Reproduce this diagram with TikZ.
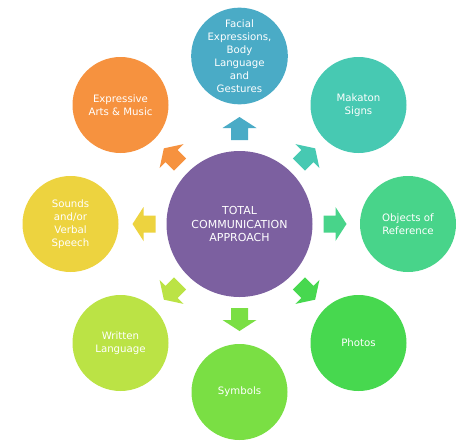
\documentclass[tikz,border=0pt]{standalone}
\usepackage{fontspec}
\setmainfont{DejaVu Sans}
\usetikzlibrary{calc}
\definecolor{hubcol}{HTML}{7C60A0}
\definecolor{facecol}{HTML}{4AABC6}
\definecolor{makcol}{HTML}{47C9B2}
\definecolor{objcol}{HTML}{48D48A}
\definecolor{photocol}{HTML}{47D84F}
\definecolor{symcol}{HTML}{7ADF44}
\definecolor{writcol}{HTML}{BBE345}
\definecolor{soundcol}{HTML}{EDD33F}
\definecolor{artcol}{HTML}{F6923F}
\tikzset{bubble/.style={circle, fill=#1, minimum size=96pt, inner sep=0pt,
        text=white, align=center, font=\fontsize{10.2}{13}\selectfont},
    hub/.style={circle, fill=hubcol, minimum size=146pt, inner sep=0pt,
        text=white, align=center, font=\fontsize{11}{13.4}\selectfont}}

\begin{document}
\begin{tikzpicture}[x=1pt,y=-1pt]
    \useasboundingbox (0,0) rectangle (474,445);

    \node[hub] (tc) at (239.5,224) {TOTAL\\COMMUNICATION\\APPROACH};

    \node[bubble=facecol] (face) at (239.5,56) {Facial\\Expressions,\\Body\\Language\\and\\Gestures};
    \node[bubble=makcol] (mak) at (358.5,105) {Makaton\\Signs};
    \node[bubble=objcol] (obj) at (408,224) {Objects of\\Reference};
    \node[bubble=photocol] (photo) at (358.5,343) {Photos};
    \node[bubble=symcol] (sym) at (239.5,392) {Symbols};
    \node[bubble=writcol] (writ) at (120.5,343) {Written\\Language};
    \node[bubble=soundcol] (sound) at (70.5,224) {Sounds\\and/or\\Verbal\\Speech};
    \node[bubble=artcol] (art) at (120.5,105) {Expressive\\Arts \& Music};

    \foreach \a/\c in {90/facecol, 45/makcol, 0/objcol, -45/photocol,
        -90/symcol, -135/writcol, 180/soundcol, 135/artcol}
    \fill[\c, shift={(tc.center)}, rotate=\a]
    (84,-8.5) -- (96,-8.5) -- (96,-17) -- (107,0) -- (96,17) -- (96,8.5) -- (84,8.5) -- cycle;
\end{tikzpicture}
\end{document}
